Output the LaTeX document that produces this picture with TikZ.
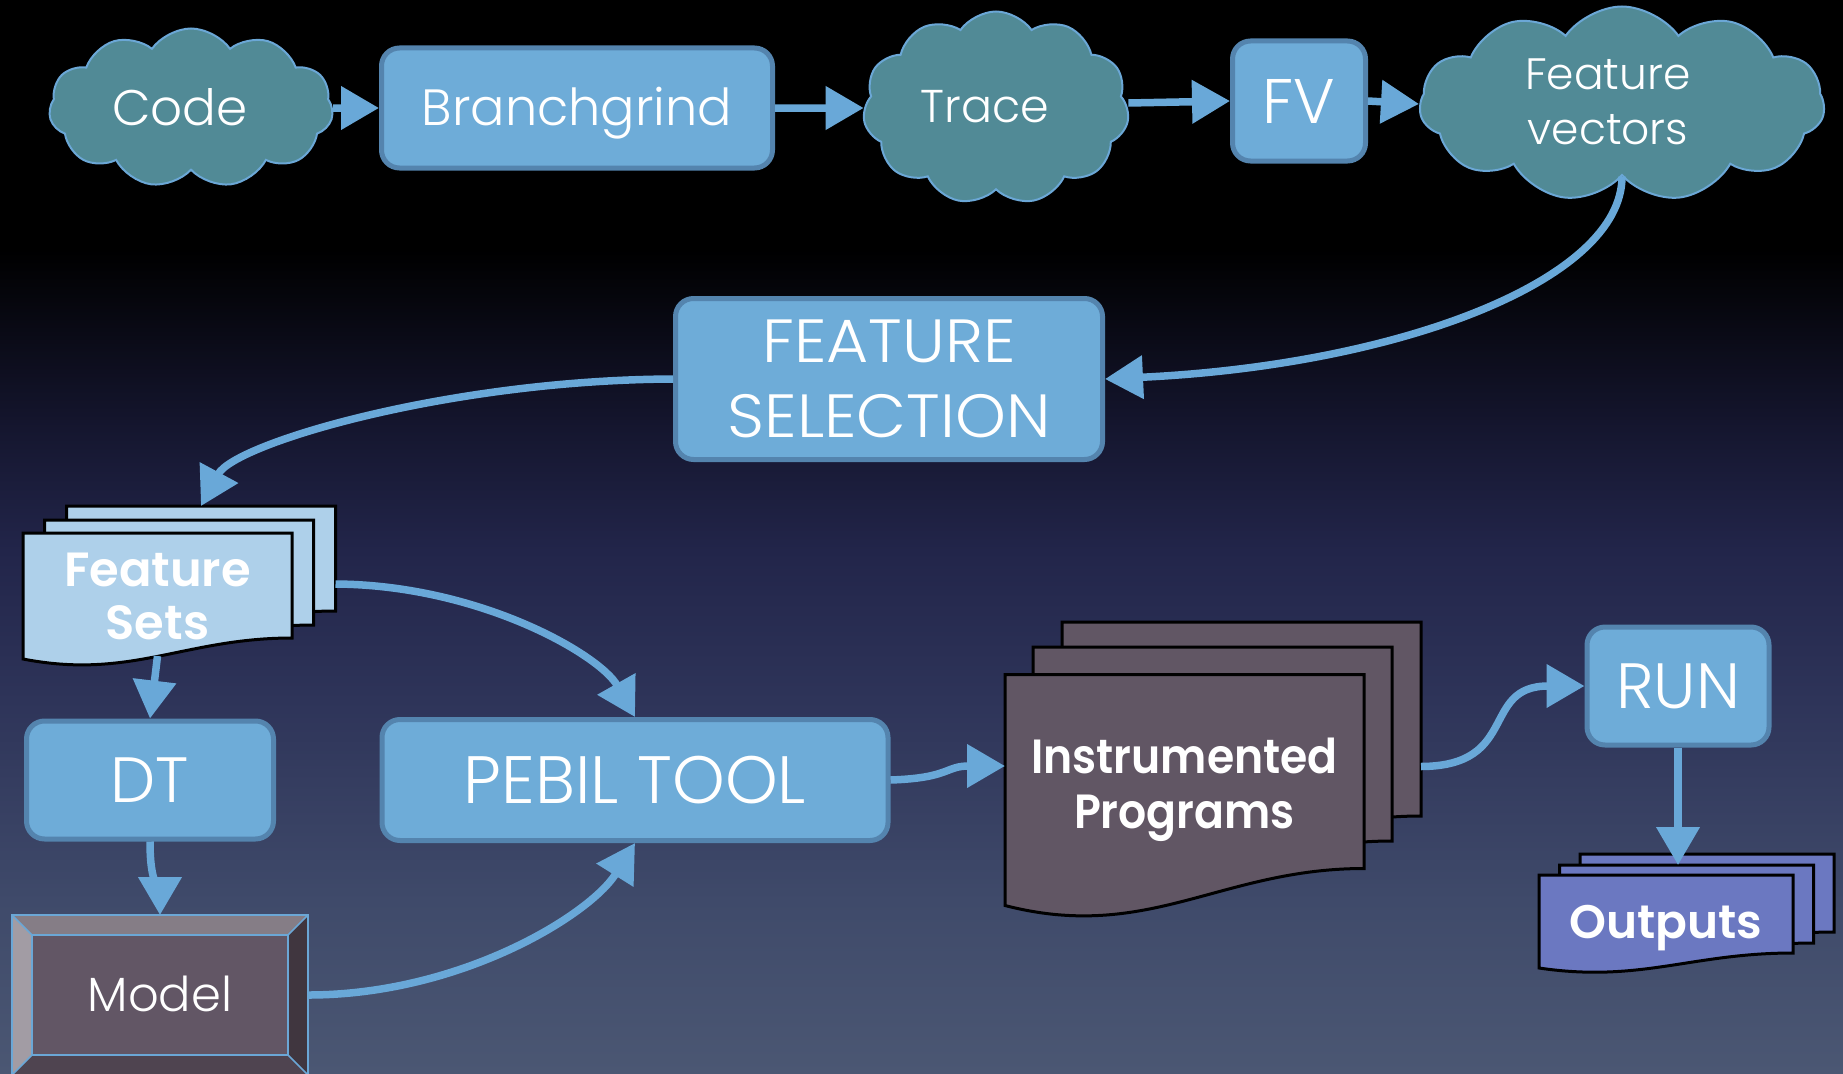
\documentclass[tikz,border=0pt]{standalone}
\usepackage{fontspec}
\setmainfont{Poppins}[UprightFont={* Light},BoldFont={* SemiBold}]
\newfontfamily\narrowbold{Poppins SemiBold}[FakeStretch=0.92]
\newfontfamily\widelight{Poppins Light}[FakeStretch=1.06]
\usetikzlibrary{shapes.symbols,arrows.meta,calc}
\pgfdeclarelayer{bgl}
\pgfdeclarelayer{docl}
\pgfsetlayers{bgl,docl,main}
\definecolor{boxfill}{HTML}{6EACD8}
\definecolor{boxdraw}{HTML}{5484AE}
\definecolor{arrowc}{HTML}{69A8D8}
\definecolor{cloudfill}{HTML}{518A96}
\definecolor{clouddraw}{HTML}{6BA7D6}
\definecolor{fsfill}{HTML}{AED0EA}
\definecolor{ipfill}{HTML}{615664}
\definecolor{opfill}{HTML}{6B78C1}
\definecolor{bga}{HTML}{14152D}
\definecolor{bgb}{HTML}{22254A}
\definecolor{bgc}{HTML}{2E3459}
\definecolor{bgd}{HTML}{3F4A6A}
\definecolor{bge}{HTML}{4B5773}
\definecolor{mcenter}{HTML}{625665}
\definecolor{mtop}{HTML}{857D86}
\definecolor{mleft}{HTML}{A29CA4}
\definecolor{mright}{HTML}{40363F}
\definecolor{mbottom}{HTML}{4F4450}
\newcommand\myfs[2]{\fontsize{#1}{#2}\selectfont}
\newcommand\docpath[3]{%
\begin{pgfonlayer}{docl}
\filldraw[fill=#2,draw=black,line width=3pt] (#1.north west) -- (#1.north east) -- ($(#1.south east)+(0,-#3)$) .. controls ($(#1.south west)!0.6!(#1.south east)+(0,-#3)$) and ($(#1.south west)!0.4!(#1.south east)+(0,#3)$) .. (#1.south west) -- cycle;
\end{pgfonlayer}}
\tikzset{
 boxnode/.style={rectangle, rounded corners=18pt, fill=boxfill, draw=boxdraw, line width=5pt, text=white, align=center, inner sep=0pt},
 capc/.style={text height=#1, text depth=0pt},
 cloudnode/.style={cloud, cloud puffs=11, cloud puff arc=110, cloud ignores aspect, fill=cloudfill, draw=clouddraw, line width=2pt, inner sep=0pt},
 cloudtext/.style={text=white, align=center, inner sep=0pt},
 flow/.style={draw=arrowc, line width=7.5pt, -{Triangle[length=38pt,width=42pt]}},
 docnode/.style={rectangle, inner sep=0pt, outer sep=0pt, text=white, align=center},
}
\begin{document}
\begin{tikzpicture}[x=1pt,y=-1pt]
\useasboundingbox (0,0) rectangle (1843,1073);
\begin{pgfonlayer}{bgl}
\fill[black] (0,0) rectangle (1843,251);
\shade[top color=black,bottom color=bga] (0,250) rectangle (1843,421);
\shade[top color=bga,bottom color=bgb] (0,420) rectangle (1843,551);
\shade[top color=bgb,bottom color=bgc] (0,550) rectangle (1843,701);
\shade[top color=bgc,bottom color=bgd] (0,700) rectangle (1843,901);
\shade[top color=bgd,bottom color=bge] (0,900) rectangle (1843,1073);
\end{pgfonlayer}

% top row
\node[cloudnode, minimum width=284pt, minimum height=159pt] (codec) at (191,108) {};
\node[cloudtext, capc=35pt, font=\myfs{50}{60}] (codet) at (180,108) {Code};
\node[boxnode, capc=35.7pt, minimum width=391pt, minimum height=120pt, font=\myfs{51}{60}] (branch) at (577,108) {Branchgrind};
\node[cloudnode, minimum width=266pt, minimum height=193pt] (trace) at (996,108) {};
\node[cloudtext, capc=32.2pt, font=\myfs{46}{55}] (tracet) at (985,106) {Trace};
\node[boxnode, capc=44pt, minimum width=133pt, minimum height=120pt, font=\myfs{63}{70}] (fv) at (1299,101) {FV};
\node[cloudnode, minimum width=405pt, minimum height=195pt] (fvec) at (1622,104) {};
\node[cloudtext, font=\myfs{44}{55}] (fvect) at (1608,102) {Feature\\vectors};

\node[boxnode, minimum width=427pt, minimum height=161pt, font=\widelight\myfs{61}{75}] (fsel) at (889,379) {FEATURE\\SELECTION};

% Feature Sets stack
\node[docnode, minimum width=269pt, minimum height=126pt] (fsback) at (201,569) {};
\docpath{fsback}{fsfill}{21}
\node[docnode, minimum width=269pt, minimum height=126pt] (fsmid) at (179,583) {};
\docpath{fsmid}{fsfill}{21}
\node[docnode, minimum width=269pt, minimum height=126pt, font=\bfseries\myfs{48}{53}] (fs) at (157.5,596) {Feature\\Sets};
\docpath{fs}{fsfill}{21}

\node[boxnode, capc=44.8pt, minimum width=247pt, minimum height=118pt, font=\myfs{64}{70}] (dt) at (150,780) {DT};
\node[boxnode, capc=46.9pt, minimum width=506pt, minimum height=121pt, font=\myfs{67}{70}] (pebil) at (635,780) {PEBIL TOOL};

% Model (bevelled)
\node[capc=33.6pt, text=white, minimum width=296pt, minimum height=160pt, inner sep=0pt, outer sep=0pt, font=\myfs{48}{55}] (model) at (160,995) {Model};
\begin{pgfonlayer}{docl}
\fill[mcenter] ($(model.north west)+(20,20)$) rectangle ($(model.south east)+(-20,-20)$);
\fill[mtop] (model.north west) -- (model.north east) -- ($(model.north east)+(-20,20)$) -- ($(model.north west)+(20,20)$) -- cycle;
\fill[mleft] (model.north west) -- ($(model.north west)+(20,20)$) -- ($(model.south west)+(20,-20)$) -- (model.south west) -- cycle;
\fill[mright] (model.north east) -- (model.south east) -- ($(model.south east)+(-20,-20)$) -- ($(model.north east)+(-20,20)$) -- cycle;
\fill[mbottom] (model.south west) -- (model.south east) -- ($(model.south east)+(-20,-20)$) -- ($(model.south west)+(20,-20)$) -- cycle;
\draw[clouddraw, line width=1.5pt] (model.north west) rectangle (model.south east);
\draw[clouddraw, line width=1.5pt] ($(model.north west)+(20,20)$) rectangle ($(model.south east)+(-20,-20)$);
\draw[clouddraw, line width=1.5pt] (model.north west) -- ++(20,20) (model.north east) -- ++(-20,20) (model.south west) -- ++(20,-20) (model.south east) -- ++(-20,-20);
\end{pgfonlayer}

% Instrumented Programs stack
\node[docnode, minimum width=359pt, minimum height=231pt] (ipback) at (1241.5,737.5) {};
\docpath{ipback}{ipfill}{37}
\node[docnode, minimum width=359pt, minimum height=231pt] (ipmid) at (1212.5,762.5) {};
\docpath{ipmid}{ipfill}{37}
\node[docnode, minimum width=359pt, minimum height=231pt, font=\narrowbold\myfs{48}{55}] (ip) at (1184.5,790) {Instrumented\\Programs};
\docpath{ip}{ipfill}{37}

\node[boxnode, capc=44.8pt, minimum width=182pt, minimum height=118pt, font=\myfs{64}{70}] (run) at (1678,686) {RUN};

% Outputs stack
\node[docnode, minimum width=254pt, minimum height=93pt] (opback) at (1707,900.5) {};
\docpath{opback}{opfill}{15}
\node[docnode, minimum width=254pt, minimum height=93pt] (opmid) at (1686.5,911.5) {};
\docpath{opmid}{opfill}{15}
\node[docnode, capc=33pt, minimum width=254pt, minimum height=93pt, font=\bfseries\myfs{47}{55}] (op) at (1666,921.5) {Outputs};
\docpath{op}{opfill}{15}

% connectors
\draw[flow] (codec.east) -- (branch.west);
\draw[flow] (branch.east) -- (trace.west);
\draw[flow] ($(trace.east)+(0,-5)$) -- (fv.west);
\draw[flow] (fv.east) -- (fvec.west);
\draw[flow] (fvec.south) .. controls (1622,280) and (1400,365) .. (fsel.east);
\draw[flow] (fsel.west) .. controls (450,380) and (235,443) .. (fsback.north);
\draw[flow] ($(fs.south)+(0,-3)$) -- (dt.north);
\draw[flow] ($(fsback.east)+(0,15)$) .. controls (480,585) and (600,655) .. (pebil.north);
\draw[flow] (dt.south) .. controls +(0,45) and +(0,-25) .. (model.north);
\draw[flow] (model.east) .. controls (460,995) and (590,915) .. (pebil.south);
\draw[flow] (pebil.east) .. controls (950,778) and (945,766) .. ($(ip.west)+(0,-24)$);
\draw[flow] ($(ipback.east)+(0,29)$) .. controls (1520,766) and (1480,686) .. (run.west);
\draw[flow] (run.south) -- (run.south |- opmid.north);
\end{tikzpicture}
\end{document}
